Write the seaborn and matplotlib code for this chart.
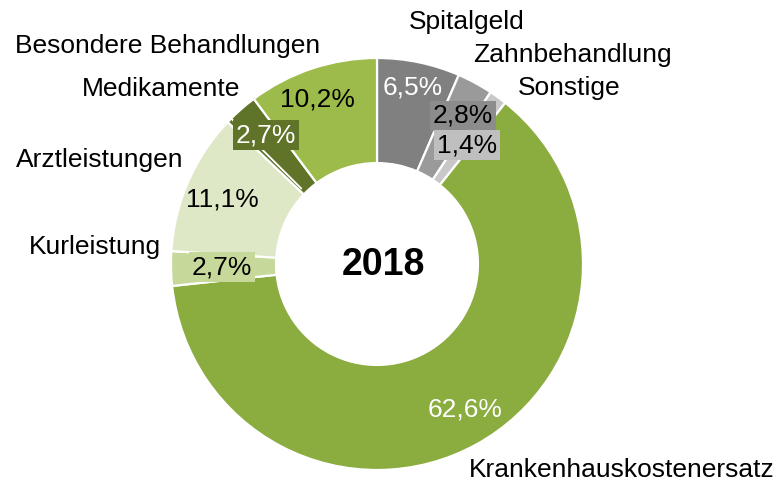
import matplotlib
matplotlib.use("Agg")
import matplotlib.pyplot as plt
import seaborn as sns
import numpy as np

categories = ["Spitalgeld", "Zahnbehandlung", "Sonstige", "Krankenhauskostenersatz",
              "Kurleistung", "Arztleistungen", "Medikamente", "Besondere Behandlungen"]
values = [6.5, 2.8, 1.4, 62.6, 2.7, 11.1, 2.7, 10.2]
pct_labels = ["6,5%", "2,8%", "1,4%", "62,6%", "2,7%", "11,1%", "2,7%", "10,2%"]
year_label = "2018"

colors = sns.color_palette(["#808080", "#9a9a9a", "#c8c8c8", "#8bac3f",
                            "#c6d99b", "#dfe8c6", "#607429", "#9cbb4b"])

sns.set_theme(style="white")
plt.rcParams['font.family'] = ['Liberation Sans', 'DejaVu Sans']

W, H = 778, 486
fig = plt.figure(figsize=(W / 100, H / 100), dpi=100)
ax = fig.add_axes([0, 0, 1, 1])

cx, cy, R = 377, H - 264, 206
ring = R * 0.51
wedges, _ = ax.pie(values, colors=colors, startangle=90, counterclock=False,
                   center=(cx, cy), radius=R, frame=True,
                   wedgeprops=dict(width=ring, edgecolor='white', linewidth=1.6))
ax.set_xlim(0, W)
ax.set_ylim(0, H)
ax.set_aspect('equal')
ax.axis('off')

# thin white separator inside the Medikamente wedge (as in the source rendering)
w = wedges[6]
th = np.deg2rad(w.theta1 + (w.theta2 - w.theta1) * 0.86)
r0, r1 = R - ring + 6, R
ax.plot([cx + r0 * np.cos(th), cx + r1 * np.cos(th)],
        [cy + r0 * np.sin(th), cy + r1 * np.sin(th)], color='white', lw=1.3)

def py(y):
    return H - y

fs = 19
# category labels
ax.text(467, py(22), "Spitalgeld", fontsize=fs, ha='center', va='center', color='black')
ax.text(572, py(55), "Zahnbehandlung", fontsize=fs, ha='center', va='center', color='black')
ax.text(569, py(88), "Sonstige", fontsize=fs, ha='center', va='center', color='black')
ax.text(622, py(470), "Krankenhauskostenersatz", fontsize=fs, ha='center', va='center', color='black')
ax.text(161, py(247), "Kurleistung", fontsize=fs, ha='right', va='center', color='black')
ax.text(183, py(160), "Arztleistungen", fontsize=fs, ha='right', va='center', color='black')
ax.text(240, py(89), "Medikamente", fontsize=fs, ha='right', va='center', color='black')
ax.text(320, py(46), "Besondere Behandlungen", fontsize=fs, ha='right', va='center', color='black')

# percentage labels
pos = {
    0: (413, 88, 'white', None),
    1: (463, 116, 'black', '#8c8c8c'),
    2: (467, 145, 'black', '#bfbfbf'),
    3: (465, 410, 'white', None),
    4: (222, 267, 'black', colors[4]),
    5: (222, 200, 'black', None),
    6: (266, 135, 'white', colors[6]),
    7: (317, 100, 'black', None),
}
for i, (x, y, c, bg) in pos.items():
    kw = {}
    if bg is not None:
        kw['bbox'] = dict(boxstyle='square,pad=0.1', facecolor=bg, edgecolor='none')
    ax.text(x, py(y), pct_labels[i], fontsize=fs, ha='center', va='center', color=c, **kw)

ax.text(383, py(265), year_label, fontsize=27, fontweight='bold', ha='center', va='center', color='black')

fig.savefig("out.png", dpi=100)
